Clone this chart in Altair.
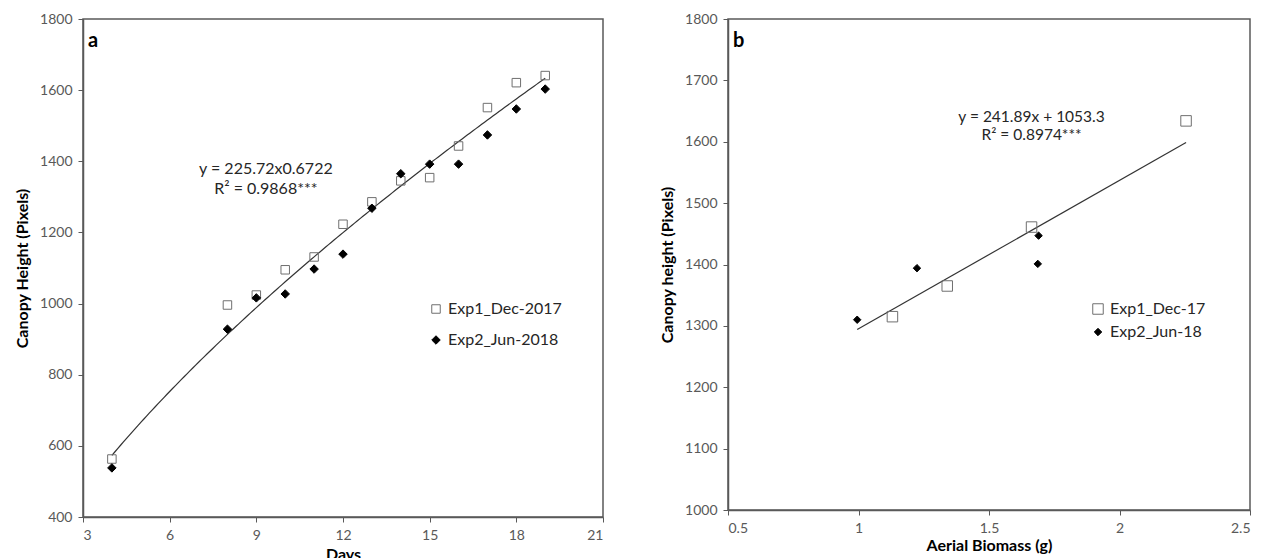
import altair as alt
import pandas as pd

# ---- Panel a: canopy height over time ----
days = [4, 8, 9, 10, 11, 12, 13, 14, 15, 16, 17, 18, 19]
exp1_height = [563, 996, 1024, 1095, 1131, 1223, 1286, 1345, 1354, 1443, 1551, 1621, 1641]
exp2_height = [538, 928, 1016, 1027, 1097, 1139, 1268, 1365, 1392, 1392, 1474, 1547, 1603]
series_a = ["Exp1_Dec-2017", "Exp2_Jun-2018"]
x_ticks_a = [3, 6, 9, 12, 15, 18, 21]
y_ticks_a = [400, 600, 800, 1000, 1200, 1400, 1600, 1800]
POW_A, POW_B = 225.72, 0.6722
eq_a = ["y = 225.72x0.6722", "R² = 0.9868***"]

# ---- Panel b: canopy height vs aerial biomass ----
exp1_biomass = [1.13, 1.34, 1.663, 2.255]
exp1_canopy = [1315, 1365, 1461, 1634]
exp2_biomass = [0.995, 1.224, 1.69, 1.687]
exp2_canopy = [1310, 1394, 1447, 1401]
series_b = ["Exp1_Dec-17", "Exp2_Jun-18"]
x_ticks_b = [0.5, 1, 1.5, 2, 2.5]
y_ticks_b = [1000, 1100, 1200, 1300, 1400, 1500, 1600, 1700, 1800]
LIN_M, LIN_C = 241.89, 1053.3
eq_b = ["y = 241.89x + 1053.3", "R² = 0.8974***"]

FONT = "Lato"
GREY = "#595959"

df_a = pd.DataFrame({
    "day": days + days,
    "height": exp1_height + exp2_height,
    "series": [series_a[0]] * len(days) + [series_a[1]] * len(days),
})
df_b = pd.DataFrame({
    "biomass": exp1_biomass + exp2_biomass,
    "canopy": exp1_canopy + exp2_canopy,
    "series": [series_b[0]] * len(exp1_biomass) + [series_b[1]] * len(exp2_biomass),
})


def markers(labels, sizes, legend):
    return dict(
        shape=alt.Shape("series:N", scale=alt.Scale(domain=labels, range=["square", "diamond"]), legend=legend),
        fill=alt.Fill("series:N", scale=alt.Scale(domain=labels, range=["transparent", "black"]), legend=legend),
        stroke=alt.Stroke("series:N", scale=alt.Scale(domain=labels, range=["#6f6f6f", "black"]), legend=legend),
        size=alt.Size("series:N", scale=alt.Scale(domain=labels, range=sizes), legend=legend),
    )


def legend_at(x, y, row_pad):
    return alt.Legend(
        orient="none", legendX=x, legendY=y, title=None, padding=0,
        labelFont=FONT, labelFontSize=16, labelColor="#262626",
        rowPadding=row_pad, symbolStrokeWidth=1, labelOffset=4,
    )


# ---- Panel a layers ----
xa = alt.X("day:Q", title="Days",
           scale=alt.Scale(domain=[3, 21], nice=False, zero=False),
           axis=alt.Axis(values=x_ticks_a, titlePadding=4))
ya = alt.Y("height:Q", title="Canopy Height (Pixels)",
           scale=alt.Scale(domain=[400, 1800], nice=False, zero=False),
           axis=alt.Axis(values=y_ticks_a, format="d", titlePadding=9))

pts_a = alt.Chart(df_a).mark_point(opacity=1, strokeWidth=1).encode(
    x=xa, y=ya, **markers(series_a, [72, 72], legend_at(345, 282, 15))
)

curve_a = alt.Chart(alt.sequence(min(days), max(days) + 0.01, 0.1, as_="day")).transform_calculate(
    height=f"{POW_A} * pow(datum.day, {POW_B})"
).mark_line(color="#333333", strokeWidth=1.2).encode(x="day:Q", y="height:Q")

eq_df_a = pd.DataFrame({"day": [9.33, 9.33], "height": [1378, 1322], "txt": eq_a})
text_a = alt.Chart(eq_df_a).mark_text(font=FONT, fontSize=16, color="#262626", align="center", baseline="middle").encode(
    x="day:Q", y="height:Q", text="txt:N"
)
tag_a = alt.Chart(pd.DataFrame({"t": ["a"]})).mark_text(
    font=FONT, fontSize=20, fontWeight="bold", align="left", baseline="middle", color="black"
).encode(x=alt.value(5), y=alt.value(22), text="t:N")

panel_a = alt.layer(curve_a, pts_a, text_a, tag_a).properties(width=520, height=498)

# ---- Panel b layers ----
xb = alt.X("biomass:Q", title="Aerial Biomass (g)",
           scale=alt.Scale(domain=[0.5, 2.5], nice=False, zero=False),
           axis=alt.Axis(values=x_ticks_b, format="~g", titlePadding=2))
yb = alt.Y("canopy:Q", title="Canopy height (Pixels)",
           scale=alt.Scale(domain=[1000, 1800], nice=False, zero=False),
           axis=alt.Axis(values=y_ticks_b, format="d", titlePadding=9))

pts_b = alt.Chart(df_b).mark_point(opacity=1, strokeWidth=1).encode(
    x=xb, y=yb, **markers(series_b, [110, 55], legend_at(362, 282, 7))
)

fit_x = [min(df_b["biomass"]), max(df_b["biomass"])]
line_b = alt.Chart(pd.DataFrame({"biomass": fit_x})).transform_calculate(
    canopy=f"{LIN_M} * datum.biomass + {LIN_C}"
).mark_line(color="#333333", strokeWidth=1.2).encode(x="biomass:Q", y="canopy:Q")

eq_df_b = pd.DataFrame({"biomass": [1.663, 1.663], "canopy": [1640, 1611], "txt": eq_b})
text_b = alt.Chart(eq_df_b).mark_text(font=FONT, fontSize=15.5, color="#262626", align="center", baseline="middle").encode(
    x="biomass:Q", y="canopy:Q", text="txt:N"
)
tag_b = alt.Chart(pd.DataFrame({"t": ["b"]})).mark_text(
    font=FONT, fontSize=20, fontWeight="bold", align="left", baseline="middle", color="black"
).encode(x=alt.value(5), y=alt.value(22), text="t:N")

panel_b = alt.layer(line_b, pts_b, text_b, tag_b).properties(width=522, height=491)

chart = alt.hconcat(panel_a, panel_b, spacing=53).resolve_scale(
    shape="independent", fill="independent", stroke="independent", size="independent"
).properties(
    padding={"left": 13, "top": 11, "right": 5, "bottom": 0}, background="white"
).configure_axis(
    grid=False, labelFont=FONT, labelFontSize=14, labelColor=GREY, labelPadding=6,
    tickColor=GREY, tickSize=5, tickWidth=1, domainColor=GREY, domainWidth=1.5,
    titleFont=FONT, titleFontSize=16, titleFontWeight="bold", titleColor="black",
).configure_view(stroke=GREY, strokeWidth=1.5)

chart.save("out.html", embed_options={"renderer": "svg", "actions": False})
